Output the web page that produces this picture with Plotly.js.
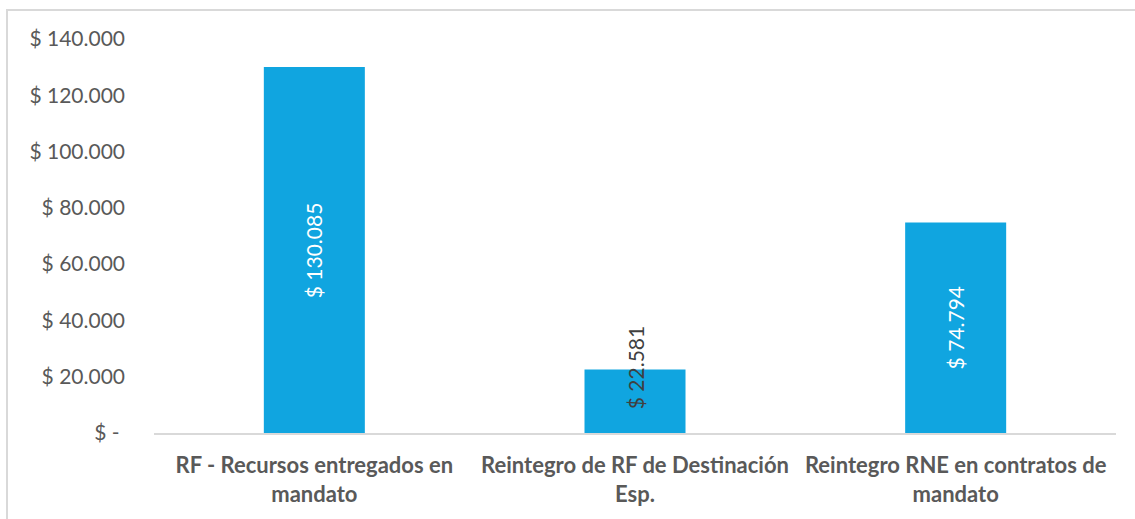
<!DOCTYPE html>
<html>
<head>
<meta charset="utf-8">
<script src="https://cdn.plot.ly/plotly-3.0.1.min.js"></script>
<style>
  html, body { margin: 0; padding: 0; background: #fff; }
  #wrap { position: relative; width: 1135px; height: 519px; }
  #chart { width: 1135px; height: 519px; }
  #frame { position: absolute; left: 6px; top: 9px; width: 1140px; height: 520px;
           border-left: 2px solid #d9d9d9; border-top: 2px solid #d9d9d9; pointer-events: none; }
</style>
</head>
<body>
<div id="wrap">
  <div id="chart"></div>
  <div id="frame"></div>
</div>
<script>
const categories = [
  'RF - Recursos entregados en<br>mandato',
  'Reintegro de RF de Destinación<br>Esp.',
  'Reintegro RNE en contratos de<br>mandato'
];
const values = [130085, 22581, 74794];
const tickValues = [0, 20000, 40000, 60000, 80000, 100000, 120000, 140000];
const tickLabels = ['$ -\u00a0', '$ 20.000', '$ 40.000', '$ 60.000', '$ 80.000', '$ 100.000', '$ 120.000', '$ 140.000'];
const labelColors = ['#ffffff', '#404040', '#ffffff'];
const labelShifts = [0, 33, 0];

function fmt(v) {
  return '$ ' + String(v).replace(/\B(?=(\d{3})+(?!\d))/g, '.');
}

const FONT = 'Lato, "Open Sans", sans-serif';

const trace = {
  type: 'bar',
  x: categories,
  y: values,
  width: 0.315,
  marker: { color: '#10a5e0' },
  hoverinfo: 'none'
};

const annotations = values.map((v, i) => ({
  x: categories[i],
  y: v / 2,
  xref: 'x',
  yref: 'y',
  text: fmt(v),
  textangle: -90,
  showarrow: false,
  yshift: labelShifts[i],
  font: { family: FONT, size: 21, color: labelColors[i] }
}));

const layout = {
  width: 1135,
  height: 519,
  margin: { l: 154, r: 19, t: 39, b: 86 },
  paper_bgcolor: '#ffffff',
  plot_bgcolor: '#ffffff',
  showlegend: false,
  bargap: 0.685,
  xaxis: {
    type: 'category',
    showline: true,
    linecolor: '#d9d9d9',
    linewidth: 2,
    showgrid: false,
    zeroline: false,
    ticks: '',
    tickfont: { family: FONT, size: 22, color: '#595959', weight: 'bold' },
    ticklabelstandoff: 12
  },
  yaxis: {
    range: [0, 140000],
    tickmode: 'array',
    tickvals: tickValues,
    ticktext: tickLabels,
    showgrid: false,
    zeroline: false,
    showline: false,
    ticks: '',
    tickfont: { family: FONT, size: 21, color: '#595959' },
    ticklabelstandoff: 28
  },
  annotations: annotations
};

Plotly.newPlot('chart', [trace], layout, { displayModeBar: false, staticPlot: true });
</script>
</body>
</html>
